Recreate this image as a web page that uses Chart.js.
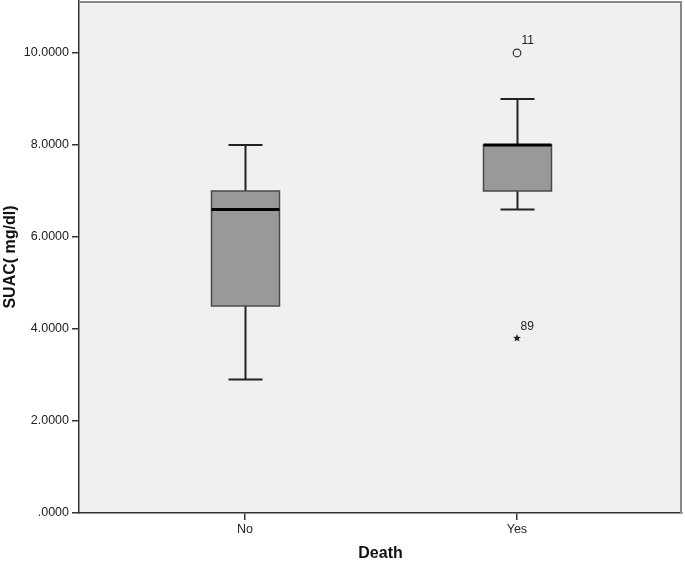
<!DOCTYPE html>
<html>
<head>
<meta charset="utf-8">
<script src="https://cdn.jsdelivr.net/npm/chart.js@4"></script>
<style>
html,body{margin:0;padding:0;background:#fff;}
#wrap{width:685px;height:564px;}
</style>
</head>
<body>
<div id="wrap"><canvas id="c" width="685" height="564"></canvas></div>
<script>
const categories = ['No', 'Yes'];
const whiskerLow = [2.9, 6.6];
const q1 = [4.5, 7.0];
const medians = [6.6, 8.0];
const q3 = [7.0, 8.0];
const whiskerHigh = [8.0, 9.0];
const outlierValues = [null, 10.0];
const outlierLabels = ['', '11'];
const extremeValues = [null, 3.8];
const extremeLabels = ['', '89'];
const yTicks = [0, 2, 4, 6, 8, 10];
const yMax = 11.13;

const FONT = '"Liberation Sans", Arial, sans-serif';

function starPath(ctx, cx, cy, rOut, rIn) {
  ctx.beginPath();
  for (let i = 0; i < 10; i++) {
    const r = i % 2 === 0 ? rOut : rIn;
    const a = -Math.PI / 2 + i * Math.PI / 5;
    const px = cx + r * Math.cos(a), py = cy + r * Math.sin(a);
    if (i === 0) ctx.moveTo(px, py); else ctx.lineTo(px, py);
  }
  ctx.closePath();
}

const boxPlugin = {
  id: 'boxPlugin',
  beforeDraw(chart) {
    const {ctx, chartArea: a} = chart;
    ctx.save();
    ctx.fillStyle = '#f0f0f0';
    ctx.fillRect(a.left, a.top, a.right - a.left, a.bottom - a.top);
    ctx.restore();
  },
  afterDatasetsDraw(chart) {
    const {ctx, chartArea: a} = chart;
    const xs = chart.scales.x, ys = chart.scales.y;
    ctx.save();
    const pxPerUnit = xs.getPixelForValue(2) - xs.getPixelForValue(1);
    const boxW = pxPerUnit * 0.25;
    const capW = boxW / 2;
    categories.forEach((c, i) => {
      const cx = Math.round(xs.getPixelForValue(i + 1)) + 0.5;
      const yLo = ys.getPixelForValue(whiskerLow[i]);
      const yHi = ys.getPixelForValue(whiskerHigh[i]);
      const yQ1 = ys.getPixelForValue(q1[i]);
      const yQ3 = ys.getPixelForValue(q3[i]);
      const yMed = ys.getPixelForValue(medians[i]);
      ctx.strokeStyle = '#222';
      ctx.lineWidth = 2;
      ctx.beginPath();
      ctx.moveTo(cx, yQ1); ctx.lineTo(cx, yLo);
      ctx.moveTo(cx, yQ3); ctx.lineTo(cx, yHi);
      ctx.moveTo(cx - capW / 2, yLo); ctx.lineTo(cx + capW / 2, yLo);
      ctx.moveTo(cx - capW / 2, yHi); ctx.lineTo(cx + capW / 2, yHi);
      ctx.stroke();
      ctx.fillStyle = '#999999';
      ctx.fillRect(cx - boxW / 2, yQ3, boxW, yQ1 - yQ3);
      ctx.strokeStyle = '#4a4a4a';
      ctx.lineWidth = 1.5;
      ctx.strokeRect(cx - boxW / 2, yQ3, boxW, yQ1 - yQ3);
      ctx.strokeStyle = '#000';
      ctx.lineWidth = 3;
      ctx.beginPath();
      ctx.moveTo(cx - boxW / 2, yMed); ctx.lineTo(cx + boxW / 2, yMed);
      ctx.stroke();
      ctx.font = '12px ' + FONT;
      ctx.fillStyle = '#222';
      ctx.textBaseline = 'middle';
      ctx.textAlign = 'left';
      if (outlierValues[i] !== null) {
        const oy = ys.getPixelForValue(outlierValues[i]);
        ctx.strokeStyle = '#333';
        ctx.lineWidth = 1.2;
        ctx.beginPath();
        ctx.arc(cx - 0.5, oy, 3.8, 0, Math.PI * 2);
        ctx.stroke();
        ctx.fillText(outlierLabels[i], cx + 4, oy - 12);
      }
      if (extremeValues[i] !== null) {
        const ey = ys.getPixelForValue(extremeValues[i]);
        ctx.fillStyle = '#222';
        starPath(ctx, cx - 0.5, ey, 4.2, 1.8);
        ctx.fill();
        ctx.fillText(extremeLabels[i], cx + 3, ey - 12);
      }
    });
    ctx.strokeStyle = '#888';
    ctx.lineWidth = 2;
    ctx.beginPath();
    ctx.moveTo(a.left, a.top + 1); ctx.lineTo(a.right - 1, a.top + 1); ctx.lineTo(a.right - 1, a.bottom);
    ctx.stroke();
    ctx.restore();
  }
};

new Chart(document.getElementById('c'), {
  type: 'scatter',
  data: { datasets: [{ data: [], pointRadius: 0 }] },
  plugins: [boxPlugin],
  options: {
    responsive: false,
    animation: false,
    events: [],
    layout: { padding: { top: 1, right: 3, left: 0, bottom: 0 } },
    plugins: { legend: { display: false }, tooltip: { enabled: false } },
    scales: {
      x: {
        type: 'linear',
        min: 0.39,
        max: 2.607,
        afterBuildTicks(s) { s.ticks = categories.map((c, i) => ({ value: i + 1 })); },
        afterFit(s) { s.height = 51; s.paddingLeft = 0; s.paddingRight = 0; },
        ticks: {
          callback(v) { return categories[v - 1]; },
          font: { family: FONT, size: 12.5 },
          color: '#222',
          padding: 2,
          maxRotation: 0
        },
        grid: { drawOnChartArea: false, tickLength: 7, color: '#333', lineWidth: 1.5 },
        border: { color: '#333', width: 1.5 },
        title: {
          display: true,
          text: 'Death',
          font: { family: FONT, size: 16, weight: 'bold' },
          color: '#111',
          padding: { top: 0, bottom: 1 }
        }
      },
      y: {
        type: 'linear',
        min: 0,
        max: yMax,
        afterBuildTicks(s) { s.ticks = yTicks.map(v => ({ value: v })); },
        afterFit(s) { s.width = 79; s.paddingTop = 0; s.paddingBottom = 0; },
        ticks: {
          callback(v) { const t = v.toFixed(4); return v === 0 ? t.slice(1) : t; },
          font: { family: FONT, size: 12.5 },
          color: '#222',
          padding: 3
        },
        grid: { drawOnChartArea: false, tickLength: 7, color: '#333', lineWidth: 1.5 },
        border: { color: '#333', width: 1.5 },
        title: {
          display: true,
          text: 'SUAC( mg/dl)',
          font: { family: FONT, size: 16, weight: 'bold' },
          color: '#111',
          padding: { top: 1, bottom: 0 }
        }
      }
    }
  }
});
</script>
</body>
</html>
